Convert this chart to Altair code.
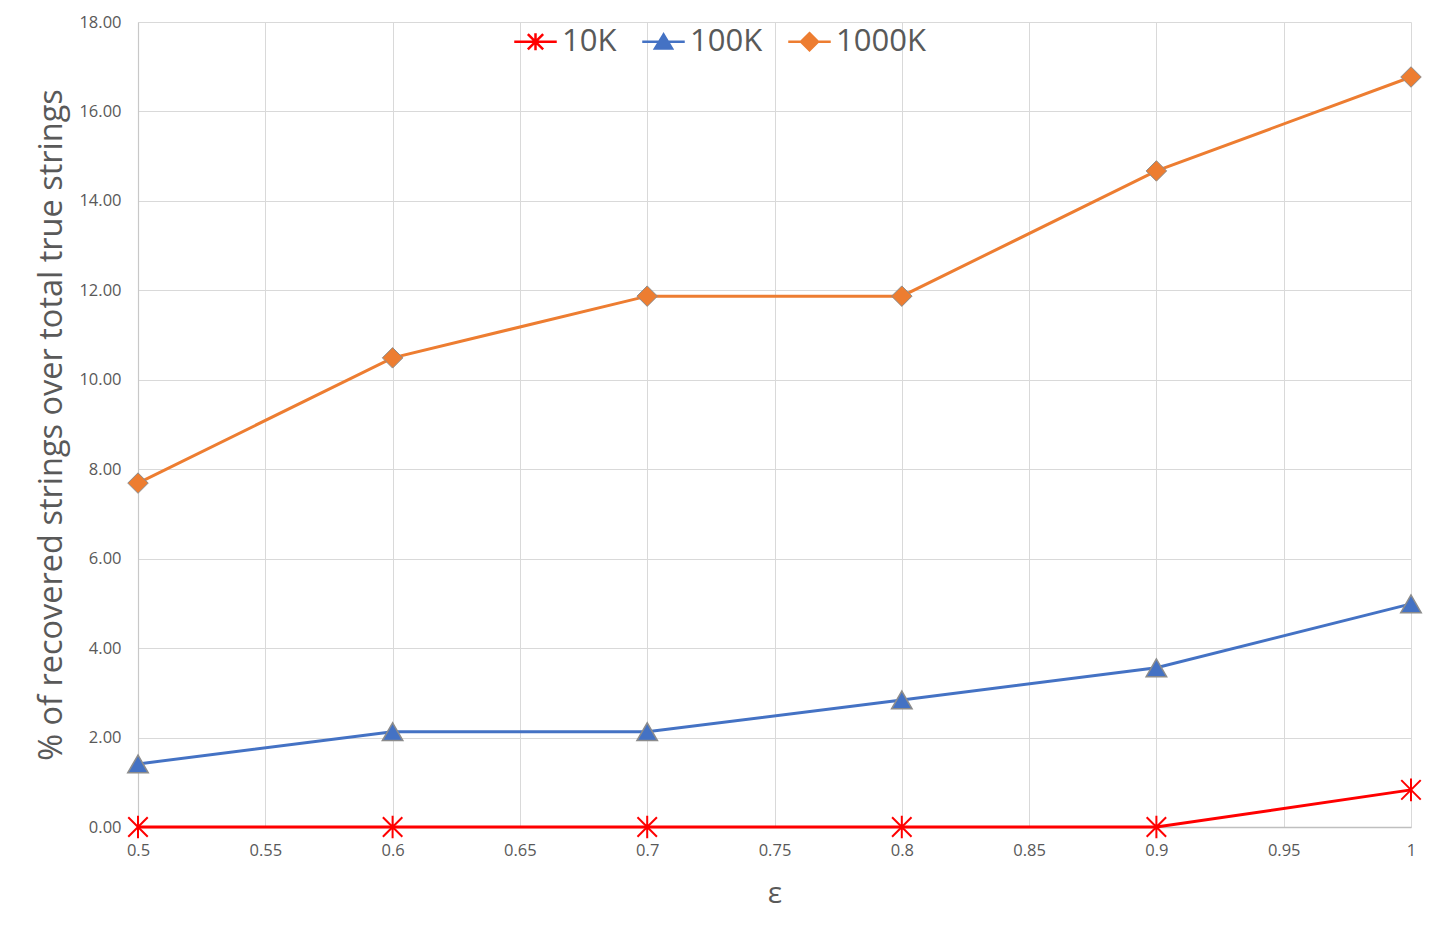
import altair as alt
import pandas as pd

# Privacy budget values on the x axis
eps = [0.5, 0.6, 0.7, 0.8, 0.9, 1.0]

# % of recovered strings over total true strings, one list per dataset size
rec_10k = [0.0, 0.0, 0.0, 0.0, 0.0, 0.83]
rec_100k = [1.41, 2.13, 2.13, 2.84, 3.56, 4.99]
rec_1000k = [7.69, 10.49, 11.87, 11.87, 14.67, 16.77]

series_names = ["10K", "100K", "1000K"]
x_ticks = [0.5, 0.55, 0.6, 0.65, 0.7, 0.75, 0.8, 0.85, 0.9, 0.95, 1.0]
y_ticks = [0, 2, 4, 6, 8, 10, 12, 14, 16, 18]

line_colors = ["#ff0000", "#4472c4", "#ed7d31"]
edge_colors = ["#ff0000", "#8c8c8c", "#8c8c8c"]
edge_widths = [2, 1, 1]

asterisk = "M-0.95,-0.95L0.95,0.95M-0.95,0.95L0.95,-0.95M0,-1.1L0,1.1"
marker_shapes = [asterisk, "triangle-up", "diamond"]
legend_shapes = [
    "M-2.5,0L2.5,0M-0.9,-0.9L0.9,0.9M-0.9,0.9L0.9,-0.9M0,-1L0,1",
    "M-2.5,0L2.5,0M0,-0.85L-1,0.8L1,0.8Z",
    "M-2.5,0L2.5,0M0,-1L1,0L0,1L-1,0Z",
]

rows = []
for name, vals in zip(series_names, [rec_10k, rec_100k, rec_1000k]):
    for e, v in zip(eps, vals):
        rows.append({"eps": e, "value": v, "series": name})
df = pd.DataFrame(rows)

TEXT = "#595959"
FONT = "Open Sans"

x_enc = alt.X(
    "eps:Q",
    title="ε",
    scale=alt.Scale(domain=[0.5, 1.0], nice=False, zero=False),
    axis=alt.Axis(values=x_ticks, format="~g", labelFontSize=16.5, labelColor=TEXT,
                  labelPadding=15, titleFontSize=30, titleColor=TEXT,
                  titleFontWeight="normal", titlePadding=20, ticks=False,
                  domainColor="#bfbfbf", domainWidth=1.5, labelFont=FONT,
                  titleFont=FONT, gridColor="#d9d9d9", labelFlush=False),
)
y_enc = alt.Y(
    "value:Q",
    title="% of recovered strings over total true strings",
    scale=alt.Scale(domain=[0, 18], nice=False),
    axis=alt.Axis(values=y_ticks, format=".2f", labelFontSize=16.5, labelColor=TEXT,
                  labelPadding=17, titleFontSize=32.5, titleColor=TEXT,
                  titleFontWeight="normal", titlePadding=10, ticks=False,
                  domain=True, domainColor="#c8c8c8", domainWidth=1.2,
                  labelFont=FONT, titleFont=FONT, gridColor="#d9d9d9"),
)

base = alt.Chart(df)

lines = base.mark_line(strokeWidth=3).encode(
    x=x_enc,
    y=y_enc,
    color=alt.Color("series:N", scale=alt.Scale(domain=series_names, range=line_colors),
                    legend=None),
)

points = base.mark_point(filled=True, size=420, opacity=1).encode(
    x="eps:Q",
    y="value:Q",
    fill=alt.Fill("series:N", scale=alt.Scale(domain=series_names, range=line_colors),
                  legend=None),
    stroke=alt.Stroke("series:N", scale=alt.Scale(domain=series_names, range=edge_colors),
                      legend=None),
    strokeWidth=alt.StrokeWidth("series:N",
                                scale=alt.Scale(domain=series_names, range=edge_widths),
                                legend=None),
    shape=alt.Shape("series:N", scale=alt.Scale(domain=series_names, range=marker_shapes),
                    legend=None),
)

legend_cfg = alt.Legend(
    title=None, orient="none", direction="horizontal", legendX=382, legendY=4,
    labelFontSize=31, labelColor=TEXT, labelFont=FONT, symbolSize=289,
    symbolStrokeWidth=2.5, labelOffset=11, columnPadding=20, padding=0,
)

legend_layer = base.mark_point(filled=True, opacity=1).encode(
    x="eps:Q",
    y="value:Q",
    fill=alt.Fill("series:N", scale=alt.Scale(domain=series_names, range=line_colors),
                  legend=legend_cfg),
    stroke=alt.Stroke("series:N", scale=alt.Scale(domain=series_names, range=line_colors),
                      legend=legend_cfg),
    shape=alt.Shape("series:N", scale=alt.Scale(domain=series_names, range=legend_shapes),
                    legend=legend_cfg),
).transform_filter("false")

chart = (
    alt.layer(lines, points, legend_layer)
    .resolve_scale(fill="independent", stroke="independent", shape="independent")
    .properties(
        width=1273,
        height=805,
        autosize=alt.AutoSizeParams(type="none"),
        padding={"left": 138, "top": 22, "right": 29, "bottom": 113},
        background="white",
    )
    .configure_view(stroke=None)
)

chart.save("out.html", embed_options={"renderer": "svg", "actions": False})
